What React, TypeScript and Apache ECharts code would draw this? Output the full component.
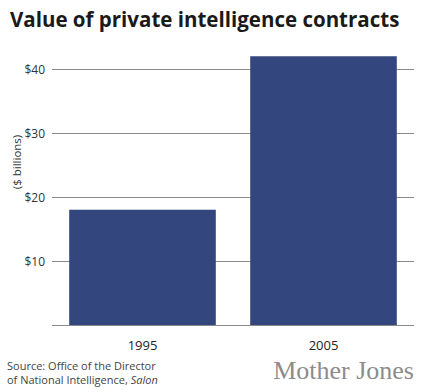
import React, { useEffect, useRef } from "react";
import * as echarts from "echarts";

const categories = ["1995", "2005"];
const values = [18, 42];
const yTicks = [0, 10, 20, 30, 40];

const titleText = "Value of private intelligence contracts";
const yAxisName = "($ billions)";
const sourceLine1 = "Source: Office of the Director";
const sourceLine2a = "of National Intelligence, ";
const sourceLine2b = "Salon";
const brand = "Mother Jones";

export default function App() {
  const ref = useRef<HTMLDivElement>(null);
  useEffect(() => {
    if (!ref.current) return;
    const chart = echarts.init(ref.current, undefined, { renderer: "svg" });
    chart.setOption({
      animation: false,
      backgroundColor: "#ffffff",
      textStyle: { fontFamily: "Open Sans" },
      title: {
        text: titleText,
        left: 5,
        top: 3,
        textStyle: { fontFamily: "Open Sans", fontWeight: "bold", fontSize: 20.5, color: "#1a1a1a" },
      },
      grid: { left: 52, right: 7, top: 37, bottom: 67 },
      xAxis: {
        type: "category",
        data: categories,
        axisLine: { show: false },
        axisTick: { show: false },
        axisLabel: { margin: 13, fontSize: 13, color: "#222", fontFamily: "Open Sans" },
      },
      yAxis: {
        type: "value",
        min: 0,
        max: 45,
        interval: 10,
        axisLine: { show: false },
        axisTick: { show: false },
        splitLine: { show: true, showMaxLine: false, lineStyle: { color: "#8a8a8a", width: 1 } },
        axisLabel: {
          margin: 7,
          fontSize: 12,
          color: "#333",
          fontFamily: "Open Sans",
          showMaxLabel: false,
          formatter: (v: number) => (yTicks.includes(v) && v !== 0 ? "$" + v : ""),
        },
      },
      series: [
        {
          type: "bar",
          data: values,
          barCategoryGap: "19%",
          itemStyle: { color: "#33467e" },
        },
      ],
      graphic: [
        {
          type: "text",
          x: 16,
          y: 162,
          rotation: Math.PI / 2,
          style: {
            text: yAxisName,
            fontSize: 11.5,
            fontFamily: "Open Sans",
            fill: "#333",
            align: "center",
            verticalAlign: "middle",
          },
        },
        {
          type: "text",
          x: 7,
          y: 365,
          style: {
            text: sourceLine1,
            fontSize: 11,
            lineHeight: 12,
            fontFamily: "Open Sans",
            fill: "#444",
            align: "left",
            verticalAlign: "middle",
          },
        },
        {
          type: "text",
          x: 7,
          y: 379,
          style: {
            text: "{n|" + sourceLine2a + "}{i|" + sourceLine2b + "}",
            fontSize: 11,
            lineHeight: 12,
            fontFamily: "Open Sans",
            fill: "#444",
            align: "left",
            verticalAlign: "middle",
            rich: {
              n: { fontSize: 11, lineHeight: 12, fontFamily: "Open Sans", fill: "#444" },
              i: { fontSize: 11, lineHeight: 12, fontFamily: "Open Sans", fontStyle: "italic", fill: "#444" },
            },
          },
        },
        {
          type: "text",
          x: 414,
          y: 370,
          style: {
            text: brand,
            fontSize: 26,
            fontFamily: "Liberation Serif",
            fill: "#8c8c8c",
            align: "right",
            verticalAlign: "middle",
          },
        },
      ],
    });
    return () => chart.dispose();
  }, []);
  return <div ref={ref} style={{ position: "fixed", left: 0, top: 0, width: 421, height: 392 }} />;
}
